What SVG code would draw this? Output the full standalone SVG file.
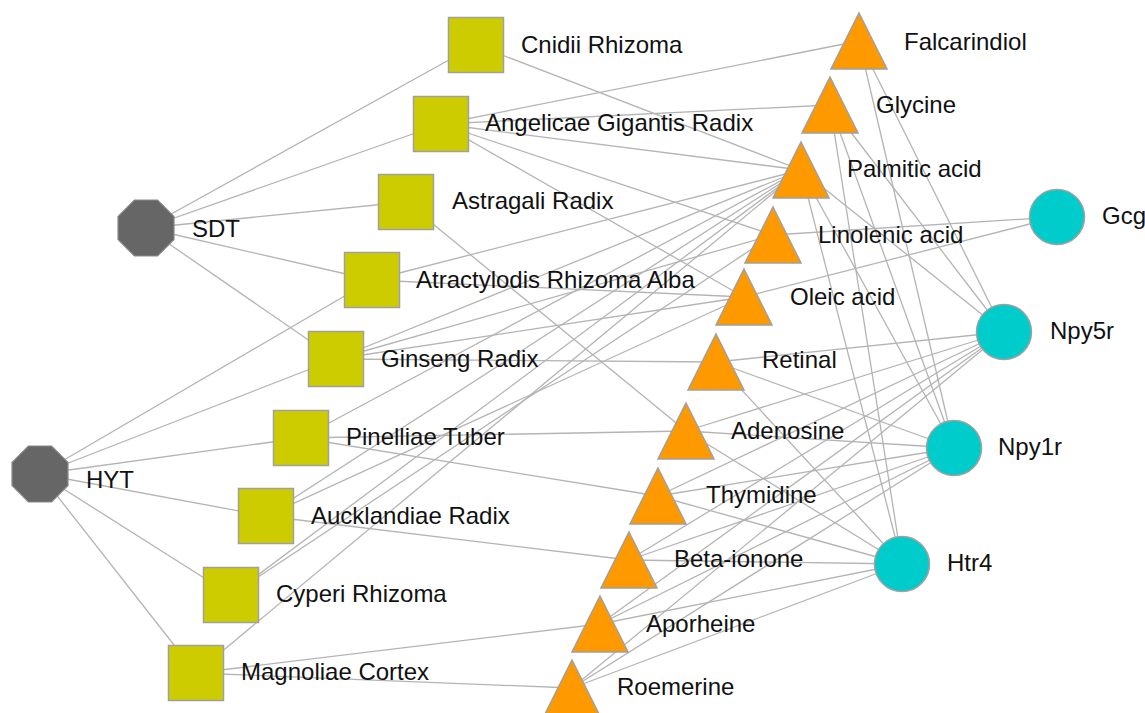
<svg xmlns="http://www.w3.org/2000/svg" xmlns:xlink="http://www.w3.org/1999/xlink" width="1145" height="713" viewBox="0 0 1145 713">
<style>
.e{stroke:#b4b4b4;stroke-width:1.3;fill:none}
.oct{fill:#666666;stroke:#8a8a8a;stroke-width:1.2}
.sq{fill:#cccc00;stroke:#a0a0a0;stroke-width:1.5}
.tri{fill:#ff9900;stroke:#a0a0a0;stroke-width:1.5}
.cir{fill:#00cccc;stroke:#a0a0a0;stroke-width:1.5}
text{font-family:"Liberation Sans",Arial,sans-serif;font-size:24px;fill:#111}
</style>
<defs>
<polygon id="oct" class="oct" points="-11.6,-28 11.6,-28 28,-11.6 28,11.6 11.6,28 -11.6,28 -28,11.6 -28,-11.6"/>
<rect id="sq" class="sq" x="-27.5" y="-27.5" width="55" height="55"/>
<polygon id="tri" class="tri" points="0,0 28,56 -28,56"/>
<circle id="cir" class="cir" r="27.5"/>
</defs>
<rect width="1145" height="713" fill="#ffffff"/>
<g id="edges">
<line class="e" x1="146" y1="228" x2="476" y2="45"/>
<line class="e" x1="146" y1="228" x2="441" y2="124"/>
<line class="e" x1="146" y1="228" x2="406" y2="202"/>
<line class="e" x1="146" y1="228" x2="372" y2="280"/>
<line class="e" x1="146" y1="228" x2="336" y2="359"/>
<line class="e" x1="40" y1="474" x2="372" y2="280"/>
<line class="e" x1="40" y1="474" x2="336" y2="359"/>
<line class="e" x1="40" y1="474" x2="301" y2="438"/>
<line class="e" x1="40" y1="474" x2="266" y2="516"/>
<line class="e" x1="40" y1="474" x2="231" y2="595"/>
<line class="e" x1="40" y1="474" x2="196" y2="673"/>
<line class="e" x1="476" y1="45" x2="801" y2="170"/>
<line class="e" x1="441" y1="124" x2="859" y2="41"/>
<line class="e" x1="441" y1="124" x2="830" y2="105"/>
<line class="e" x1="441" y1="124" x2="801" y2="170"/>
<line class="e" x1="441" y1="124" x2="773" y2="235"/>
<line class="e" x1="441" y1="124" x2="744" y2="297"/>
<line class="e" x1="406" y1="202" x2="686" y2="431"/>
<line class="e" x1="372" y1="280" x2="801" y2="170"/>
<line class="e" x1="372" y1="280" x2="744" y2="297"/>
<line class="e" x1="336" y1="359" x2="801" y2="170"/>
<line class="e" x1="336" y1="359" x2="773" y2="235"/>
<line class="e" x1="336" y1="359" x2="744" y2="297"/>
<line class="e" x1="336" y1="359" x2="716" y2="362"/>
<line class="e" x1="301" y1="438" x2="801" y2="170"/>
<line class="e" x1="301" y1="438" x2="686" y2="431"/>
<line class="e" x1="301" y1="438" x2="658" y2="496"/>
<line class="e" x1="266" y1="516" x2="801" y2="170"/>
<line class="e" x1="266" y1="516" x2="744" y2="297"/>
<line class="e" x1="266" y1="516" x2="629" y2="560"/>
<line class="e" x1="231" y1="595" x2="801" y2="170"/>
<line class="e" x1="231" y1="595" x2="773" y2="235"/>
<line class="e" x1="196" y1="673" x2="801" y2="170"/>
<line class="e" x1="196" y1="673" x2="600" y2="624"/>
<line class="e" x1="196" y1="673" x2="572" y2="688"/>
<line class="e" x1="859" y1="41" x2="1004" y2="332"/>
<line class="e" x1="859" y1="41" x2="954" y2="448"/>
<line class="e" x1="830" y1="105" x2="1004" y2="332"/>
<line class="e" x1="830" y1="105" x2="954" y2="448"/>
<line class="e" x1="830" y1="105" x2="902" y2="564"/>
<line class="e" x1="801" y1="170" x2="1004" y2="332"/>
<line class="e" x1="801" y1="170" x2="954" y2="448"/>
<line class="e" x1="801" y1="170" x2="902" y2="564"/>
<line class="e" x1="773" y1="235" x2="1057" y2="217"/>
<line class="e" x1="744" y1="297" x2="1057" y2="217"/>
<line class="e" x1="716" y1="362" x2="1004" y2="332"/>
<line class="e" x1="716" y1="362" x2="954" y2="448"/>
<line class="e" x1="716" y1="362" x2="902" y2="564"/>
<line class="e" x1="686" y1="431" x2="1004" y2="332"/>
<line class="e" x1="686" y1="431" x2="954" y2="448"/>
<line class="e" x1="686" y1="431" x2="902" y2="564"/>
<line class="e" x1="658" y1="496" x2="1004" y2="332"/>
<line class="e" x1="658" y1="496" x2="954" y2="448"/>
<line class="e" x1="658" y1="496" x2="902" y2="564"/>
<line class="e" x1="629" y1="560" x2="1004" y2="332"/>
<line class="e" x1="629" y1="560" x2="954" y2="448"/>
<line class="e" x1="629" y1="560" x2="902" y2="564"/>
<line class="e" x1="600" y1="624" x2="1004" y2="332"/>
<line class="e" x1="600" y1="624" x2="954" y2="448"/>
<line class="e" x1="600" y1="624" x2="902" y2="564"/>
<line class="e" x1="572" y1="688" x2="1004" y2="332"/>
<line class="e" x1="572" y1="688" x2="954" y2="448"/>
<line class="e" x1="572" y1="688" x2="902" y2="564"/>
</g>
<g id="n-SDT"><use xlink:href="#oct" x="146" y="228"/><text x="192" y="237">SDT</text></g>
<g id="n-HYT"><use xlink:href="#oct" x="40" y="474"/><text x="86" y="488">HYT</text></g>
<g id="n-cnidii"><use xlink:href="#sq" x="476" y="45"/><text x="521" y="53">Cnidii Rhizoma</text></g>
<g id="n-angelicae"><use xlink:href="#sq" x="441" y="124"/><text x="485" y="131">Angelicae Gigantis Radix</text></g>
<g id="n-astragali"><use xlink:href="#sq" x="406" y="202"/><text x="452" y="209">Astragali Radix</text></g>
<g id="n-atractylodis"><use xlink:href="#sq" x="372" y="280"/><text x="416" y="288">Atractylodis Rhizoma Alba</text></g>
<g id="n-ginseng"><use xlink:href="#sq" x="336" y="359"/><text x="381" y="367">Ginseng Radix</text></g>
<g id="n-pinelliae"><use xlink:href="#sq" x="301" y="438"/><text x="346" y="445">Pinelliae Tuber</text></g>
<g id="n-aucklandiae"><use xlink:href="#sq" x="266" y="516"/><text x="311" y="524">Aucklandiae Radix</text></g>
<g id="n-cyperi"><use xlink:href="#sq" x="231" y="595"/><text x="276" y="602">Cyperi Rhizoma</text></g>
<g id="n-magnoliae"><use xlink:href="#sq" x="196" y="673"/><text x="241" y="680">Magnoliae Cortex</text></g>
<g id="n-falcarindiol"><use xlink:href="#tri" x="859" y="13"/><text x="904" y="50">Falcarindiol</text></g>
<g id="n-glycine"><use xlink:href="#tri" x="830" y="77"/><text x="876" y="113">Glycine</text></g>
<g id="n-palmitic"><use xlink:href="#tri" x="801" y="142"/><text x="847" y="177">Palmitic acid</text></g>
<g id="n-linolenic"><use xlink:href="#tri" x="773" y="207"/><text x="818" y="243">Linolenic acid</text></g>
<g id="n-oleic"><use xlink:href="#tri" x="744" y="269"/><text x="790" y="305">Oleic acid</text></g>
<g id="n-retinal"><use xlink:href="#tri" x="716" y="334"/><text x="762" y="368">Retinal</text></g>
<g id="n-adenosine"><use xlink:href="#tri" x="686" y="403"/><text x="731" y="439">Adenosine</text></g>
<g id="n-thymidine"><use xlink:href="#tri" x="658" y="468"/><text x="706" y="503">Thymidine</text></g>
<g id="n-betaionone"><use xlink:href="#tri" x="629" y="532"/><text x="674" y="567">Beta-ionone</text></g>
<g id="n-aporheine"><use xlink:href="#tri" x="600" y="596"/><text x="646" y="632">Aporheine</text></g>
<g id="n-roemerine"><use xlink:href="#tri" x="572" y="660"/><text x="617" y="695">Roemerine</text></g>
<g id="n-gcg"><use xlink:href="#cir" x="1057" y="217"/><text x="1102" y="224">Gcg</text></g>
<g id="n-npy5r"><use xlink:href="#cir" x="1004" y="332"/><text x="1050" y="339">Npy5r</text></g>
<g id="n-npy1r"><use xlink:href="#cir" x="954" y="448"/><text x="998" y="455">Npy1r</text></g>
<g id="n-htr4"><use xlink:href="#cir" x="902" y="564"/><text x="947" y="571">Htr4</text></g>
</svg>
